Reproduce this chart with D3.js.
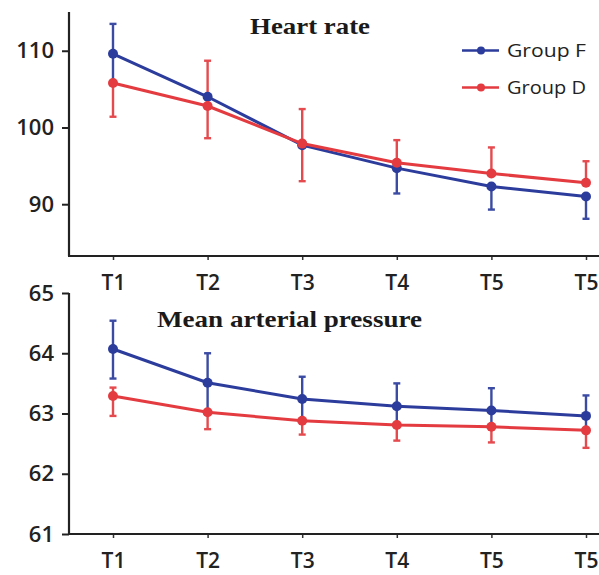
<!DOCTYPE html>
<html>
<head>
<meta charset="utf-8">
<script src="https://cdn.jsdelivr.net/npm/d3@7.9.0/dist/d3.min.js"></script>
<style>
  body { margin: 0; background: #fff; }
  svg { display: block; }
  .tick text { font-family: "Open Sans", sans-serif; font-size: 22px; font-weight: 600; fill: #222; }
  .xax .tick text { font-size: 21px; }
  .title { font-family: "Liberation Serif", serif; font-weight: bold; font-size: 23px; fill: #1a1a1a; }
  .legend text { font-family: "Open Sans", sans-serif; font-size: 19px; fill: #222; }
</style>
</head>
<body>
<svg id="chart" width="599" height="575"></svg>
<script>
const times = ['T1', 'T2', 'T3', 'T4', 'T5', 'T6'];
const timeLabels = ['T1', 'T2', 'T3', 'T4', 'T5', 'T5'];

// heart rate (mean, visible upper / lower error)
const hrF = [109.6, 104.0, 97.7, 94.7, 92.3, 91.0];
const hrFUp = [3.9, 0, 0, 0, 0, 0];
const hrFDown = [3.8, 0, 0, 3.3, 3.0, 2.9];
const hrD = [105.8, 102.8, 97.9, 95.4, 94.0, 92.8];
const hrDUp = [0, 5.9, 4.5, 2.95, 3.4, 2.8];
const hrDDown = [4.4, 4.2, 4.9, 0, 0, 0];
const hrTicks = [90, 100, 110];

// mean arterial pressure
const mapF = [64.07, 63.51, 63.24, 63.12, 63.05, 62.96];
const mapFUp = [0.47, 0.49, 0.37, 0.38, 0.37, 0.34];
const mapFDown = [0.49, 0.49, 0.36, 0.31, 0.27, 0.24];
const mapD = [63.29, 63.02, 62.88, 62.81, 62.78, 62.72];
const mapDUp = [0.14, 0, 0, 0, 0, 0];
const mapDDown = [0.33, 0.28, 0.23, 0.26, 0.26, 0.29];
const mapTicks = [61, 62, 63, 64, 65];

const blue = '#2b3c9c';
const red = '#e33b40';

const svg = d3.select('#chart');
const x = d3.scalePoint().domain(times).range([113, 586]);

function drawPanel(opts) {
  const g = svg.append('g');
  const y = d3.scaleLinear().domain(opts.domain).range(opts.range);

  g.append('g')
    .attr('transform', `translate(69,0)`)
    .call(d3.axisLeft(y).tickValues(opts.ticks).tickSize(7).tickPadding(8).tickFormat(d3.format('d')))
    .call(a => a.select('.domain').remove())
    .call(a => a.selectAll('.tick line').attr('stroke', '#222').attr('stroke-width', 2));

  g.append('line')
    .attr('x1', 69).attr('x2', 69)
    .attr('y1', opts.range[0]).attr('y2', opts.range[1])
    .attr('stroke', '#222').attr('stroke-width', 2.2);

  g.append('g')
    .attr('class', 'xax')
    .attr('transform', `translate(0,${opts.range[0]})`)
    .call(d3.axisBottom(x).tickSize(4).tickPadding(15).tickFormat((d, i) => timeLabels[i]))
    .call(a => a.select('.domain').remove())
    .call(a => a.selectAll('.tick line').attr('stroke', '#333').attr('stroke-width', 1.5));

  g.append('line')
    .attr('x1', 68).attr('x2', 599)
    .attr('y1', opts.range[0]).attr('y2', opts.range[0])
    .attr('stroke', '#222').attr('stroke-width', 2.2);

  const series = [
    { vals: opts.f, up: opts.fUp, down: opts.fDown, color: blue },
    { vals: opts.d, up: opts.dUp, down: opts.dDown, color: red }
  ];

  const line = d3.line().x((d, i) => x(times[i])).y(d => y(d));

  series.forEach(s => {
    const eb = g.append('g').attr('stroke', s.color).attr('stroke-width', 2.4).attr('opacity', 0.92);
    s.vals.forEach((v, i) => {
      const cx = x(times[i]);
      [s.up[i], -s.down[i]].forEach(e => {
        if (!e) return;
        const ey = y(v + e);
        eb.append('line').attr('x1', cx).attr('x2', cx).attr('y1', y(v)).attr('y2', ey);
        eb.append('line').attr('x1', cx - 3.5).attr('x2', cx + 3.5).attr('y1', ey).attr('y2', ey);
      });
    });
  });

  series.forEach(s => {
    g.append('path')
      .attr('d', line(s.vals))
      .attr('fill', 'none')
      .attr('stroke', s.color)
      .attr('stroke-width', 3);
    g.selectAll(null).data(s.vals).enter().append('circle')
      .attr('cx', (d, i) => x(times[i]))
      .attr('cy', d => y(d))
      .attr('r', 5)
      .attr('fill', s.color);
  });

  g.append('text')
    .attr('class', 'title')
    .attr('x', opts.titleX).attr('y', opts.titleY)
    .attr('textLength', opts.titleW)
    .attr('lengthAdjust', 'spacingAndGlyphs')
    .text(opts.title);
}

drawPanel({
  domain: [83.25, 115.05], range: [256, 12], ticks: hrTicks,
  f: hrF, fUp: hrFUp, fDown: hrFDown, d: hrD, dUp: hrDUp, dDown: hrDDown,
  title: 'Heart rate', titleX: 250, titleY: 34, titleW: 120
});

drawPanel({
  domain: [61, 65], range: [534, 293], ticks: mapTicks,
  f: mapF, fUp: mapFUp, fDown: mapFDown, d: mapD, dUp: mapDUp, dDown: mapDDown,
  title: 'Mean arterial pressure', titleX: 157, titleY: 327, titleW: 265
});

// legend
const legendItems = [
  { name: 'Group F', color: blue },
  { name: 'Group D', color: red }
];
const leg = svg.append('g').attr('class', 'legend');
legendItems.forEach((item, i) => {
  const ly = 50.5 + i * 37;
  leg.append('line').attr('x1', 462).attr('x2', 499).attr('y1', ly).attr('y2', ly)
    .attr('stroke', item.color).attr('stroke-width', 2.5);
  leg.append('circle').attr('cx', 481).attr('cy', ly).attr('r', 4).attr('fill', item.color);
  leg.append('text').attr('x', 507).attr('y', ly + 6.5)
    .attr('textLength', 79).attr('lengthAdjust', 'spacingAndGlyphs')
    .text(item.name);
});
</script>
</body>
</html>
